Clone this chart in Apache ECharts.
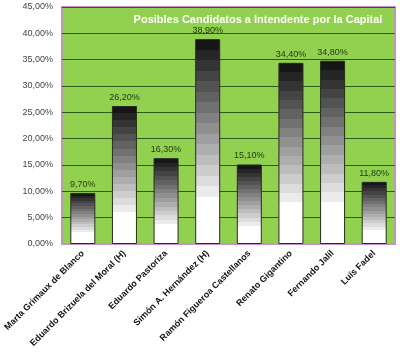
<!DOCTYPE html>
<html><head><meta charset="utf-8">
<script src="https://cdn.jsdelivr.net/npm/echarts@6/dist/echarts.min.js"></script>
<style>html,body{margin:0;padding:0;background:#fff}#c{width:400px;height:354px}</style>
</head><body><div id="c"></div>
<script>
const categories = ['Marta Grimaux de Blanco','Eduardo Brizuela del Moral (H)','Eduardo Pastoriza','Simón A. Hernández (H)','Ramón Figueroa Castellanos','Renato Gigantino','Fernando Jalil','Luís Fadel'];
const values = [9.7, 26.2, 16.3, 38.9, 15.1, 34.4, 34.8, 11.8];
const yTicks = [0,5,10,15,20,25,30,35,40,45];
const titleText = 'Posibles Candidatos a Intendente por la Capital';

const fmt = v => v.toFixed(2).replace('.', ',') + '%';
const nb = 15;
const bw = 0.77 / nb;
const stops = [];
for (let i = 0; i < nb; i++) {
  const g = Math.round(22 + (235 - 22) * i / (nb - 1));
  const c = 'rgb(' + g + ',' + g + ',' + g + ')';
  stops.push({offset:i*bw,color:c}); stops.push({offset:(i+1)*bw,color:c});
}
stops.push({offset:nb*bw,color:'#ffffff'}); stops.push({offset:1,color:'#ffffff'});

const chart = echarts.init(document.getElementById('c'));
chart.setOption({
  animation:false,
  backgroundColor:'#fff',
  title:{text:titleText,left:253,top:9,textAlign:'center',textStyle:{color:'#fff',fontSize:11,fontWeight:'bold',fontFamily:'Liberation Sans, Arial'}},
  grid:{left:62,right:5,top:7,bottom:110,show:true,backgroundColor:'#92d050',borderColor:'#c58fd0',borderWidth:2},
  xAxis:{type:'category',data:categories,
    axisLine:{show:true,lineStyle:{color:'#c58fd0',width:2}},
    axisTick:{show:false},
    axisLabel:{interval:0,rotate:45,fontSize:9,fontWeight:'bold',color:'#111',fontFamily:'Liberation Sans, Arial',margin:8}},
  yAxis:{type:'value',min:0,max:45,interval:5,
    axisLine:{show:false},axisTick:{show:false},
    splitLine:{show:true,lineStyle:{color:'#2f5a1c',width:1}},
    axisLabel:{formatter:v=>fmt(v),fontSize:9,color:'#444',fontFamily:'Liberation Sans, Arial',margin:9}},
  series:[{type:'bar',data:values,barWidth:25,
    itemStyle:{color:{type:'linear',x:0,y:0,x2:0,y2:1,colorStops:stops},borderColor:'#2a2a2a',borderWidth:1},
    label:{show:true,position:'top',formatter:p=>fmt(p.value),fontSize:9,color:'#1e3a10',fontFamily:'Liberation Sans, Arial',distance:4}}]
});
</script></body></html>
